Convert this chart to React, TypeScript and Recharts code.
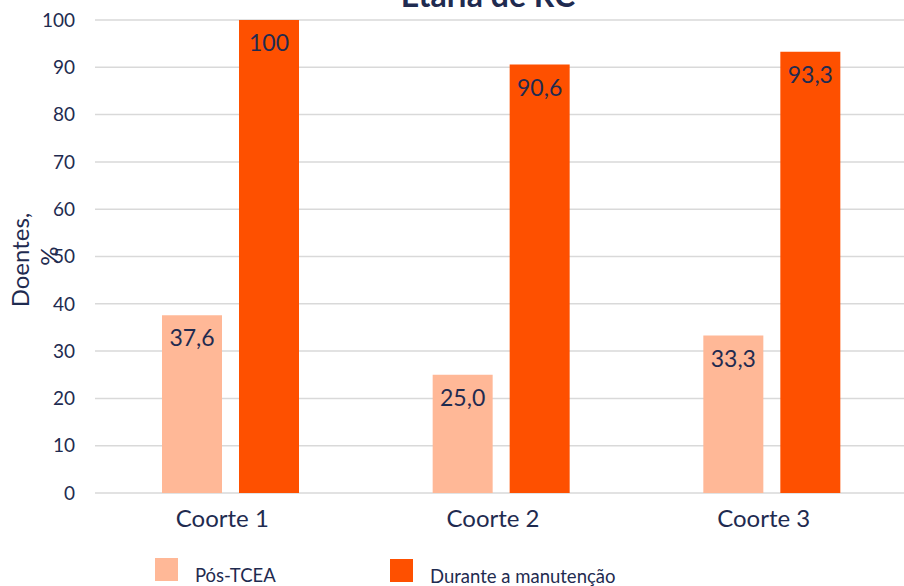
import React from 'react';
import { BarChart, Bar, XAxis, YAxis, CartesianGrid, LabelList } from 'recharts';

const categories = ['Coorte 1', 'Coorte 2', 'Coorte 3'];
const posTcea = [37.6, 25.0, 33.3];
const durante = [100, 90.6, 93.3];
const posLabels = ['37,6', '25,0', '33,3'];
const duranteLabels = ['100', '90,6', '93,3'];
const yTicks = [0, 10, 20, 30, 40, 50, 60, 70, 80, 90, 100];
const seriesNames = ['Pós-TCEA', 'Durante a manutenção'];
const titleText = 'Etária de RC';
const yTitleLines = ['Doentes,', '%'];

const NAVY = '#1F2B50';
const LIGHT = '#FFB897';
const ORANGE = '#FE5000';
const GRID = '#D9D9D9';
const FONT = 'Lato, "Open Sans", sans-serif';

const data = categories.map((name, i) => ({
  name,
  pos: posTcea[i],
  dur: durante[i],
  posLabel: posLabels[i],
  durLabel: duranteLabels[i],
}));

export default function App() {
  return (
    <div
      style={{
        position: 'fixed',
        left: 0,
        top: 0,
        width: 904,
        height: 586,
        overflow: 'hidden',
        background: '#fff',
        fontFamily: FONT,
      }}
    >
      <style>{'html, body { margin: 0; overflow: hidden; }'}</style>
      <div style={{ position: 'absolute', left: 0, top: 0, width: 940, height: 586 }}>
        <BarChart
          width={940}
          height={586}
          data={data}
          margin={{ top: 20, right: 33, left: 0, bottom: 63 }}
          barSize={60}
          barGap={17}
        >
          <CartesianGrid vertical={false} stroke={GRID} strokeWidth={1.5} x={95} width={830} />
          <XAxis
            dataKey="name"
            height={30}
            axisLine={false}
            tickLine={false}
            tickSize={0}
            tickMargin={17}
            tick={{ fill: NAVY, fontSize: 24, dx: -8 }}
            interval={0}
          />
          <YAxis
            type="number"
            domain={[0, 100]}
            ticks={yTicks}
            width={95}
            axisLine={false}
            tickLine={false}
            tickSize={0}
            tickMargin={20}
            tick={{ fill: NAVY, fontSize: 19 }}
            interval={0}
          />
          <Bar dataKey="pos" name={seriesNames[0]} fill={LIGHT} isAnimationActive={false}>
            <LabelList dataKey="posLabel" position="insideTop" offset={15} fill={NAVY} fontSize={23} />
          </Bar>
          <Bar dataKey="dur" name={seriesNames[1]} fill={ORANGE} isAnimationActive={false}>
            <LabelList dataKey="durLabel" position="insideTop" offset={15} fill={NAVY} fontSize={23} />
          </Bar>
        </BarChart>
      </div>
      <svg
        width={904}
        height={586}
        style={{ position: 'absolute', left: 0, top: 0, pointerEvents: 'none' }}
      >
        <text x={488} y={7} textAnchor="middle" fill={NAVY} fontSize={32} fontWeight={700} fontFamily={FONT}>
          {titleText}
        </text>
        <text
          transform="translate(29,260) rotate(-90)"
          textAnchor="middle"
          fill={NAVY}
          fontSize={24}
          fontFamily={FONT}
        >
          {yTitleLines[0]}
        </text>
        <text
          transform="translate(58,256) rotate(-90)"
          textAnchor="middle"
          fill={NAVY}
          fontSize={24}
          fontFamily={FONT}
        >
          {yTitleLines[1]}
        </text>
        <rect x={155} y={558} width={23} height={23} fill={LIGHT} />
        <text x={195} y={582} fill={NAVY} fontSize={18.5} fontFamily={FONT}>
          {seriesNames[0]}
        </text>
        <rect x={390} y={559} width={23} height={23} fill={ORANGE} />
        <text x={430} y={583} fill={NAVY} fontSize={18.5} fontFamily={FONT}>
          {seriesNames[1]}
        </text>
      </svg>
    </div>
  );
}
